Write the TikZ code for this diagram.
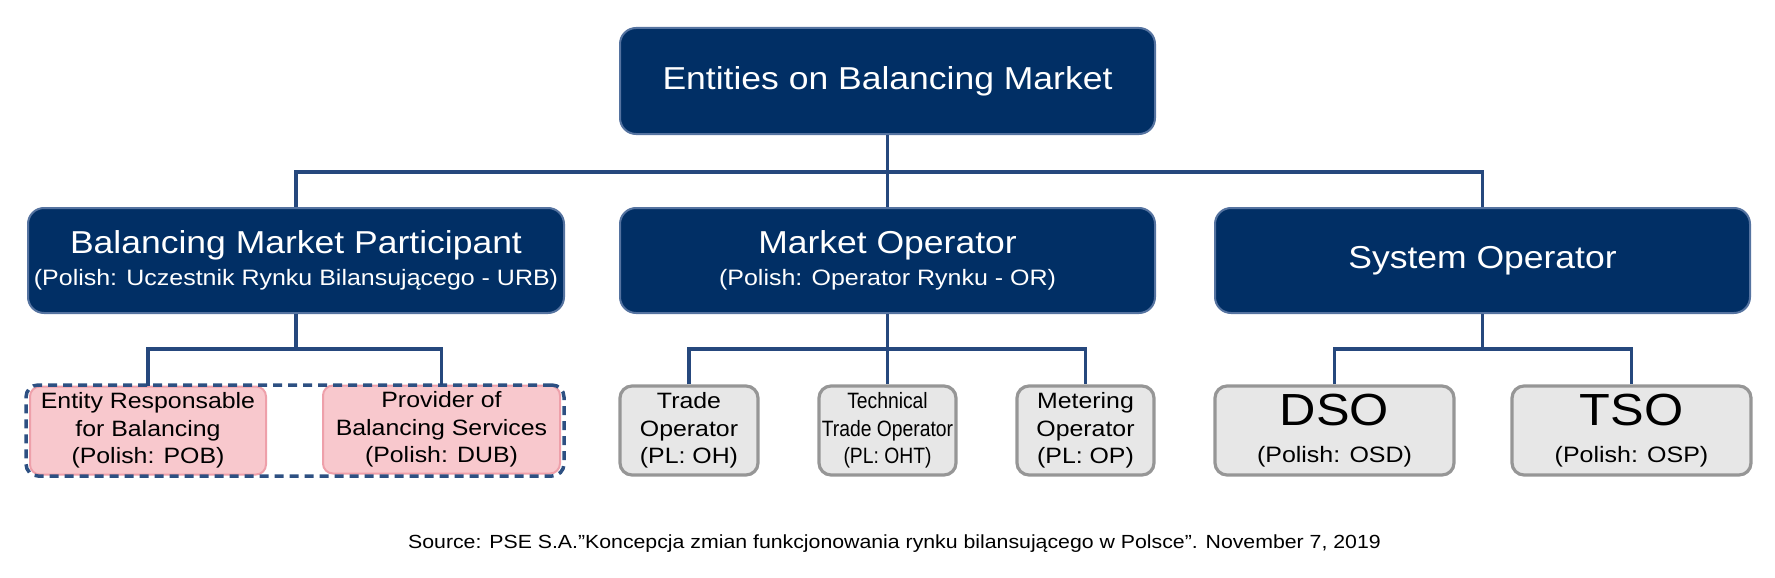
\documentclass[tikz,border=0pt]{standalone}
\usepackage{fontspec}
\setmainfont{Liberation Sans}[FakeStretch=1.12]
\newfontfamily\narrowfont{Liberation Sans}[FakeStretch=0.87]
\definecolor{navy}{RGB}{1,47,101}
\definecolor{navyedge}{RGB}{85,115,160}
\definecolor{connc}{RGB}{38,72,125}
\definecolor{grayfill}{RGB}{231,231,231}
\definecolor{grayedge}{RGB}{150,150,150}
\definecolor{pinkfill}{RGB}{248,200,205}
\definecolor{pinkedge}{RGB}{238,160,170}
\definecolor{dashc}{RGB}{45,80,130}
\tikzset{
  navybox/.style={draw=navyedge, line width=2pt, fill=navy, rounded corners=16pt, text=white, inner sep=0pt, align=center},
  graybox/.style={draw=grayedge, line width=3.2pt, fill=grayfill, rounded corners=12pt, text=black, inner sep=0pt, align=center, minimum height=89pt},
  pinkbox/.style={draw=pinkedge, line width=2pt, fill=pinkfill, rounded corners=10pt, text=black, inner sep=0pt, align=center, minimum height=88pt},
  groupbox/.style={draw=dashc, line width=3.5pt, dash pattern=on 9pt off 6pt, rounded corners=12pt, inner sep=0pt},
  connline/.style={draw=connc, line width=3.5pt},
  bigfont/.style={font=\fontsize{31.7}{36}\selectfont},
  twofont/.style={font=\fontsize{22.3}{32}\selectfont},
  smallfont/.style={font=\fontsize{22.2}{27.5}\selectfont},
}
\begin{document}
\begin{tikzpicture}[x=1pt,y=-1pt]
\useasboundingbox (0,0) rectangle (1775,578);
% level 1
\node[navybox, bigfont, minimum width=535pt, minimum height=106pt] (top) at (887.5,81) {Entities on Balancing Market};
% level 2
\node[navybox, twofont, minimum width=536pt, minimum height=105pt] (bmp) at (296,260.5)
  {{\fontsize{31.7}{32}\selectfont Balancing Market Participant}\\(Polish: Uczestnik Rynku Bilansującego - URB)};
\node[navybox, twofont, minimum width=535pt, minimum height=105pt] (mo) at (887.5,260.5)
  {{\fontsize{31.7}{32}\selectfont Market Operator}\\(Polish: Operator Rynku - OR)};
\node[navybox, bigfont, minimum width=535pt, minimum height=105pt] (so) at (1482.5,260.5) {System Operator};
% level 3
\node[pinkbox, smallfont, minimum width=236pt] (erb) at (148,430.5) {Entity Responsable\\for Balancing\\(Polish: POB)};
\node[pinkbox, smallfont, minimum width=237pt] (pbs) at (441.5,429.5) {Provider of\\Balancing Services\\(Polish: DUB)};
\node[groupbox, minimum width=538pt, minimum height=91pt] (grp) at (295,430.5) {};
\node[graybox, smallfont, minimum width=138pt] (to) at (689,430.5) {Trade\\Operator\\(PL: OH)};
\node[graybox, font=\narrowfont\fontsize{22.2}{27.5}\selectfont, minimum width=137pt] (tto) at (887.5,430.5) {Technical\\Trade Operator\\(PL: OHT)};
\node[graybox, smallfont, minimum width=137pt] (mto) at (1085.5,430.5) {Metering\\Operator\\(PL: OP)};
\node[graybox, font=\fontsize{22.3}{37}\selectfont, minimum width=239pt] (dso) at (1334.5,430.5)
  {{\fontsize{45}{45}\selectfont DSO}\\(Polish: OSD)};
\node[graybox, font=\fontsize{22.3}{37}\selectfont, minimum width=239pt] (tso) at (1631.5,430.5)
  {{\fontsize{45}{45}\selectfont TSO}\\(Polish: OSP)};
% connectors
\coordinate (b1) at (887.5,172);
\coordinate (b2) at (296,349);
\coordinate (b3) at (887.5,349);
\coordinate (b4) at (1482.5,349);
\draw[connline] (top.south) -- (b1);
\draw[connline] (bmp.north) |- (b1) -| (so.north);
\draw[connline] (b1) -- (mo.north);
\draw[connline] (bmp.south) -- (b2);
\draw[connline] (erb.north) |- (b2) -| (pbs.north);
\draw[connline] (mo.south) -- (b3);
\draw[connline] (to.north) |- (b3) -| (mto.north);
\draw[connline] (b3) -- (tto.north);
\draw[connline] (so.south) -- (b4);
\draw[connline] (dso.north) |- (b4) -| (tso.north);
% source
\node[anchor=base, font=\fontsize{19.0}{22}\selectfont, inner sep=0pt] (src) at (894.5,548)
  {Source: PSE S.A.”Koncepcja zmian funkcjonowania rynku bilansującego w Polsce”. November 7, 2019};
\end{tikzpicture}
\end{document}
